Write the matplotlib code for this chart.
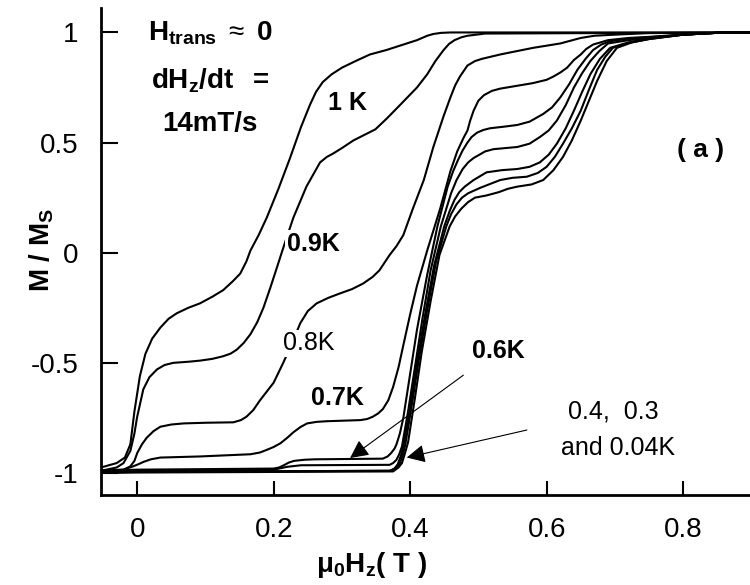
import numpy as np
import matplotlib
matplotlib.use("Agg")
import matplotlib.pyplot as plt

plt.rcParams['font.family'] = ['Liberation Sans', 'DejaVu Sans']
plt.rcParams['mathtext.fontset'] = 'custom'
plt.rcParams['mathtext.rm'] = 'Liberation Sans'
plt.rcParams['mathtext.it'] = 'Liberation Sans:italic'
plt.rcParams['mathtext.bf'] = 'Liberation Sans:bold'

# M/Ms vs mu0 Hz, one pair of lists per temperature
x_1K = [-0.053, -0.03, -0.018, -0.01, -0.004, 0.004, 0.012, 0.022, 0.034, 0.046, 0.058, 0.075,
        0.092, 0.11, 0.126, 0.14, 0.151, 0.16, 0.166, 0.178, 0.19, 0.207, 0.224, 0.24, 0.253,
        0.262, 0.272, 0.285, 0.30, 0.32, 0.341, 0.365, 0.385, 0.41, 0.425, 0.434, 0.445, 0.46, 0.9]
y_1K = [-0.975, -0.955, -0.93, -0.87, -0.72, -0.56, -0.46, -0.39, -0.34, -0.30, -0.275, -0.25,
        -0.23, -0.2, -0.17, -0.13, -0.095, -0.04, 0.01, 0.08, 0.16, 0.29, 0.43, 0.57, 0.67,
        0.73, 0.775, 0.81, 0.84, 0.87, 0.90, 0.92, 0.94, 0.965, 0.985, 0.993, 0.998, 1.0, 1.0]

x_09K = [-0.053, -0.03, -0.02, -0.01, -0.004, 0.0, 0.009, 0.018, 0.029, 0.04, 0.053, 0.075,
         0.092, 0.11, 0.126, 0.137, 0.146, 0.156, 0.166, 0.176, 0.185, 0.195, 0.205, 0.217,
         0.229, 0.248, 0.268, 0.278, 0.287, 0.3, 0.317, 0.333, 0.349, 0.366, 0.385, 0.41, 0.425,
         0.437, 0.449, 0.457, 0.465, 0.475, 0.484, 0.51, 0.9]
y_09K = [-0.99, -0.975, -0.955, -0.9, -0.82, -0.745, -0.62, -0.565, -0.53, -0.51, -0.50, -0.495,
         -0.49, -0.482, -0.47, -0.458, -0.44, -0.41, -0.37, -0.315, -0.25, -0.16, -0.065, 0.05,
         0.16, 0.3, 0.41, 0.435, 0.45, 0.475, 0.51, 0.535, 0.56, 0.61, 0.67, 0.75, 0.81,
         0.87, 0.92, 0.948, 0.965, 0.978, 0.985, 0.995, 1.0]

x_08K = [-0.053, -0.02, -0.01, -0.004, 0.0, 0.007, 0.014, 0.024, 0.034, 0.05, 0.068, 0.1, 0.141,
         0.152, 0.16, 0.17, 0.18, 0.19, 0.2, 0.214, 0.227, 0.239, 0.25, 0.263, 0.28, 0.297,
         0.315, 0.331, 0.345, 0.355, 0.37, 0.38, 0.39, 0.404, 0.42, 0.434, 0.449, 0.459, 0.466,
         0.473, 0.484, 0.495, 0.505, 0.532, 0.58, 0.62, 0.65, 0.67, 0.7, 0.75, 0.9]
y_08K = [-0.99, -0.985, -0.97, -0.945, -0.91, -0.87, -0.84, -0.81, -0.79, -0.78, -0.775, -0.772,
         -0.77, -0.76, -0.745, -0.715, -0.67, -0.63, -0.59, -0.50, -0.41, -0.32, -0.265, -0.23,
         -0.205, -0.185, -0.165, -0.14, -0.11, -0.08, -0.01, 0.03, 0.08, 0.2, 0.33, 0.48, 0.62,
         0.705, 0.76, 0.80, 0.85, 0.87, 0.88, 0.90, 0.93, 0.95, 0.975, 0.985, 0.99, 0.997, 1.0]

x_07K = [-0.053, -0.02, -0.006, 0.002, 0.009, 0.02, 0.034, 0.092, 0.166, 0.18, 0.19, 0.2, 0.21,
         0.22, 0.229, 0.239, 0.249, 0.263, 0.278, 0.327, 0.337, 0.345, 0.353, 0.36, 0.368,
         0.375, 0.383, 0.39, 0.40, 0.41, 0.425, 0.444, 0.459, 0.469, 0.478, 0.484, 0.488, 0.493,
         0.5, 0.508, 0.52, 0.532, 0.555, 0.58, 0.6, 0.61, 0.62, 0.63, 0.64, 0.65, 0.658, 0.668,
         0.69, 0.72, 0.75, 0.8, 0.86, 0.9]
y_07K = [-0.99, -0.985, -0.97, -0.96, -0.95, -0.938, -0.93, -0.925, -0.915, -0.907, -0.895,
         -0.882, -0.865, -0.84, -0.815, -0.792, -0.775, -0.768, -0.765, -0.76, -0.755, -0.745,
         -0.73, -0.71, -0.67, -0.61, -0.52, -0.42, -0.28, -0.15, 0.01, 0.2, 0.37, 0.46, 0.52,
         0.555, 0.6, 0.645, 0.69, 0.715, 0.735, 0.745, 0.757, 0.77, 0.785, 0.80, 0.818, 0.84,
         0.875, 0.90, 0.925, 0.945, 0.965, 0.975, 0.98, 0.99, 1.0, 1.0]

x_06K = [-0.053, 0.0, 0.2, 0.208, 0.215, 0.222, 0.23, 0.245, 0.26, 0.36, 0.367, 0.372, 0.377,
         0.38, 0.385, 0.39, 0.40, 0.41, 0.425, 0.44, 0.455, 0.463, 0.47, 0.477, 0.484, 0.49,
         0.498, 0.507, 0.517, 0.537, 0.557, 0.575, 0.595, 0.608, 0.62, 0.633, 0.645, 0.657,
         0.668, 0.68, 0.693, 0.72, 0.75, 0.8, 0.86, 0.9]
y_06K = [-0.99, -0.985, -0.98, -0.975, -0.965, -0.953, -0.945, -0.94, -0.938, -0.935, -0.925,
         -0.91, -0.89, -0.87, -0.82, -0.75, -0.55, -0.35, -0.1, 0.12, 0.3, 0.37, 0.42, 0.465,
         0.5, 0.525, 0.545, 0.557, 0.565, 0.572, 0.58, 0.595, 0.63, 0.66, 0.705, 0.765, 0.83,
         0.88, 0.92, 0.945, 0.96, 0.972, 0.978, 0.99, 1.0, 1.0]

x_05K = [-0.053, 0.0, 0.2, 0.22, 0.24, 0.37, 0.375, 0.38, 0.384, 0.388, 0.397, 0.407, 0.418,
         0.43, 0.445, 0.46, 0.468, 0.477, 0.485, 0.493, 0.51, 0.522, 0.557, 0.575, 0.59, 0.603,
         0.615, 0.628, 0.64, 0.652, 0.664, 0.677, 0.69, 0.72, 0.75, 0.8, 0.86, 0.9]
y_05K = [-0.995, -0.99, -0.985, -0.972, -0.965, -0.963, -0.955, -0.94, -0.915, -0.88, -0.72,
         -0.52, -0.3, -0.08, 0.12, 0.27, 0.33, 0.38, 0.41, 0.43, 0.46, 0.47, 0.48, 0.495, 0.525,
         0.555, 0.6, 0.67, 0.75, 0.815, 0.87, 0.915, 0.95, 0.965, 0.975, 0.99, 1.0, 1.0]

x_04K = [-0.053, 0.0, 0.37, 0.377, 0.382, 0.386, 0.39, 0.40, 0.41, 0.422, 0.435, 0.45, 0.458,
         0.465, 0.472, 0.48, 0.493, 0.512, 0.535, 0.557, 0.575, 0.59, 0.603, 0.615, 0.628, 0.64,
         0.652, 0.664, 0.678, 0.693, 0.72, 0.75, 0.8, 0.86, 0.9]
y_04K = [-0.997, -0.995, -0.99, -0.98, -0.96, -0.925, -0.88, -0.7, -0.5, -0.28, -0.06, 0.12,
         0.19, 0.24, 0.275, 0.3, 0.33, 0.365, 0.375, 0.38, 0.39, 0.41, 0.445, 0.495, 0.565,
         0.645, 0.73, 0.81, 0.88, 0.93, 0.955, 0.972, 0.99, 1.0, 1.0]

x_03K = [-0.053, 0.0, 0.372, 0.38, 0.385, 0.389, 0.393, 0.403, 0.413, 0.425, 0.438, 0.453, 0.46,
         0.468, 0.476, 0.485, 0.503, 0.532, 0.55, 0.571, 0.587, 0.6, 0.612, 0.624, 0.637, 0.65,
         0.662, 0.674, 0.686, 0.697, 0.72, 0.75, 0.8, 0.86, 0.9]
y_03K = [-0.997, -0.995, -0.99, -0.975, -0.955, -0.92, -0.87, -0.68, -0.48, -0.26, -0.04, 0.12,
         0.175, 0.22, 0.25, 0.27, 0.295, 0.33, 0.34, 0.345, 0.362, 0.39, 0.435, 0.495, 0.565,
         0.645, 0.74, 0.83, 0.89, 0.93, 0.952, 0.97, 0.99, 1.0, 1.0]

x_004K = [-0.053, 0.0, 0.375, 0.383, 0.388, 0.392, 0.397, 0.407, 0.417, 0.43, 0.443, 0.458,
          0.466, 0.475, 0.485, 0.495, 0.512, 0.53, 0.543, 0.557, 0.578, 0.595, 0.61, 0.624,
          0.637, 0.65, 0.662, 0.674, 0.688, 0.703, 0.725, 0.75, 0.8, 0.86, 0.9]
y_004K = [-1.0, -0.998, -0.993, -0.975, -0.955, -0.915, -0.86, -0.66, -0.45, -0.22, -0.01, 0.12,
          0.165, 0.2, 0.23, 0.25, 0.26, 0.275, 0.29, 0.30, 0.31, 0.33, 0.375, 0.435, 0.51, 0.6,
          0.69, 0.78, 0.87, 0.93, 0.955, 0.97, 0.99, 1.0, 1.0]

curves = [(x_1K, y_1K), (x_09K, y_09K), (x_08K, y_08K), (x_07K, y_07K), (x_06K, y_06K),
          (x_05K, y_05K), (x_04K, y_04K), (x_03K, y_03K), (x_004K, y_004K)]

xticks = [0, 0.2, 0.4, 0.6, 0.8]
xtick_labels = ['0', '0.2', '0.4', '0.6', '0.8']
yticks = [-1, -0.5, 0, 0.5, 1]
ytick_labels = ['-1', '-0.5', '0', '0.5', '1']

fig = plt.figure(figsize=(7.5, 5.85), dpi=100)
ax = fig.add_axes([101 / 750, 90 / 585, 649 / 750, 487 / 585])

for xs, ys in curves:
    ax.plot(xs, ys, color='black', lw=1.5, solid_capstyle='round',
            solid_joinstyle='round', zorder=2)

ax.set_xlim(-0.053, 0.898)
ax.set_ylim(-1.1, 1.111)
ax.spines['top'].set_visible(False)
ax.spines['right'].set_visible(False)
ax.spines['left'].set_linewidth(2)
ax.spines['bottom'].set_linewidth(2)
ax.set_xticks(xticks)
ax.set_xticklabels(xtick_labels)
ax.set_yticks(yticks)
ax.set_yticklabels(ytick_labels)
ax.tick_params(axis='x', direction='in', length=10, width=1.5, labelsize=20, pad=16)
ax.tick_params(axis='y', direction='in', length=12, width=1.5, labelsize=20, pad=16)

# curve labels (white box breaks the line like in the original)
box = dict(facecolor='white', edgecolor='none', pad=1)
ax.text(0.308, 0.68, '1 K', fontsize=18, fontweight='bold', ha='center', va='center')
ax.text(0.258, 0.04, '0.9K', fontsize=18, fontweight='bold', ha='center', va='center',
        bbox=box, zorder=3)
ax.text(0.252, -0.41, '0.8K', fontsize=18, ha='center', va='center', bbox=box, zorder=3)
ax.text(0.293, -0.66, '0.7K', fontsize=18, fontweight='bold', ha='center', va='center')
ax.text(0.529, -0.447, '0.6K', fontsize=18, fontweight='bold', ha='center', va='center')
ax.text(0.697, -0.72, '0.4,  0.3', fontsize=18, ha='center', va='center')
ax.text(0.705, -0.885, 'and 0.04K', fontsize=18, ha='center', va='center')
ax.text(0.825, 0.465, '( a )', fontsize=19, fontweight='bold', ha='center', va='center')

arrow = dict(arrowstyle='-|>', color='black', lw=0.8, mutation_scale=28, shrinkA=0, shrinkB=0)
ax.annotate('', xy=(0.312, -0.932), xytext=(0.478, -0.556), arrowprops=arrow)
ax.annotate('', xy=(0.395, -0.93), xytext=(0.571, -0.805), arrowprops=arrow)

ax.text(0.107, 0.995, r'$\mathbf{H_{trans}}\ \approx\ \mathbf{0}$', fontsize=20,
        ha='center', va='center')
ax.text(0.107, 0.78, r'$\mathbf{dH_z/dt}\ \ \mathbf{=}$', fontsize=20, ha='center', va='center')
ax.text(0.107, 0.585, '14mT/s', fontsize=20, fontweight='bold', ha='center', va='center')

fig.text(42 / 750, 1 - 250 / 585, r'$\mathbf{M\ /\ M_S}$', fontsize=20, rotation=90,
         ha='center', va='center')
fig.text(372 / 750, 1 - 565 / 585, r'$\mathbf{\mu_0H_z(\ T\ )}$', fontsize=20,
         ha='center', va='center')

fig.savefig('out.png', dpi=100)
